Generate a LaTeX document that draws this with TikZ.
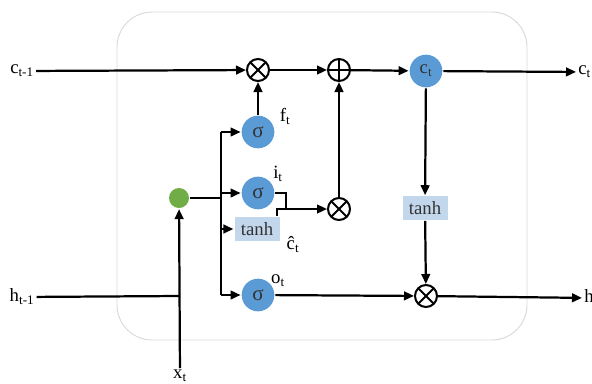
\documentclass[tikz,border=0pt]{standalone}
\usepackage{fontspec}
\setmainfont{Liberation Serif}
\usepackage{xcolor}
\usetikzlibrary{arrows.meta, calc}

\definecolor{gateblue}{RGB}{91,155,213}
\definecolor{mixgreen}{RGB}{112,173,71}
\definecolor{boxblue}{RGB}{194,214,236}

\tikzset{
  gate/.style={circle, fill=gateblue, minimum size=0.98cm, inner sep=0pt, text=black!80},
  actbox/.style={fill=boxblue, minimum width=1.35cm, minimum height=0.7cm, inner sep=0pt, text=black!80},
  mult/.style={circle, draw, line width=1.7pt, minimum size=0.66cm, inner sep=0pt,
    path picture={\draw[line width=1.7pt] (path picture bounding box.north west) -- (path picture bounding box.south east)
      (path picture bounding box.north east) -- (path picture bounding box.south west);}},
  add/.style={circle, draw, line width=1.7pt, minimum size=0.66cm, inner sep=0pt,
    path picture={\draw[line width=1.7pt] (path picture bounding box.north) -- (path picture bounding box.south)
      (path picture bounding box.west) -- (path picture bounding box.east);}},
  lbl/.style={inner sep=1pt}
}

\begin{document}
\begin{tikzpicture}[x=0.03cm, y=-0.03cm, >={Triangle[length=3mm, width=2.6mm]}, line width=1.9pt,
    every node/.style={font=\fontsize{16}{18}\selectfont}]
  \useasboundingbox (0,0) rectangle (592,383);
  \draw[black!15, line width=0.8pt, rounded corners=30pt] (117,12) rectangle (527,340);

  % inputs and outputs
  \node[lbl] (cprev) at (22,71) {c\textsubscript{t-1}};
  \node[lbl] (hprev) at (22,297) {h\textsubscript{t-1}};
  \node[lbl, anchor=north] (xt) at (180,368) {x\textsubscript{t}};
  \node[lbl, anchor=west] (cout) at (576,72) {c\textsubscript{t}};
  \node[lbl, anchor=west] (hout) at (582,298) {h\textsubscript{t}};

  % cell
  \node[circle, fill=mixgreen, minimum size=0.6cm, inner sep=0pt] (mix) at (179,198) {};
  \node[gate] (sf) at (258,132) {\fontsize{18}{18}\selectfont σ};
  \node[gate] (si) at (258,193) {\fontsize{18}{18}\selectfont σ};
  \node[actbox] (tc) at (257,229) {tanh};
  \node[gate] (so) at (258,295) {\fontsize{18}{18}\selectfont σ};
  \node[mult] (mf) at (258,70) {};
  \node[add] (ad) at (339,70) {};
  \node[mult] (mi) at (339,209) {};
  \node[gate] (ct) at (426,71) {c\textsubscript{t}};
  \node[actbox] (th) at (425,208) {tanh};
  \node[mult] (mo) at (426,296) {};

  \node[lbl] (lf) at (285,116) {f\textsubscript{t}};
  \node[lbl] (li) at (278,174) {i\textsubscript{t}};
  \node[lbl] (lc) at (293,245) {\^{c}\textsubscript{t}};
  \node[lbl] (lo) at (278,281) {o\textsubscript{t}};

  \coordinate (jx) at (180,296);
  \coordinate (br) at (221,198);
  \coordinate (jm) at (286,209);

  % cell state
  \draw[->] (cprev) -- (mf);
  \draw[->] (mf) -- (ad);
  \draw[->] (ad) -- (ct);
  \draw[->] (ct) -- (cout);
  \draw[->] (sf) -- (mf);
  \draw[->] (mi) -- (ad);

  % input mixing
  \draw (hprev) -- (jx);
  \draw[->] (xt) -- (mix);
  \draw (mix) -- (br);
  \draw (br |- sf) -- (br |- so);
  \draw[->] (br |- sf) -- (sf);
  \draw[->] (br |- si) -- (si);
  \draw[->] (br |- tc) -- (tc);
  \draw[->] (br |- so) -- (so);

  % input gate
  \draw (si) -| (jm);
  \draw[->] ($(tc.north east)+(-4,0)$) |- (mi);

  % output
  \draw[->] (ct) -- (th);
  \draw[->] (th) -- (mo);
  \draw[->] (so) -- (mo);
  \draw[->] (mo) -- (hout);
\end{tikzpicture}
\end{document}
